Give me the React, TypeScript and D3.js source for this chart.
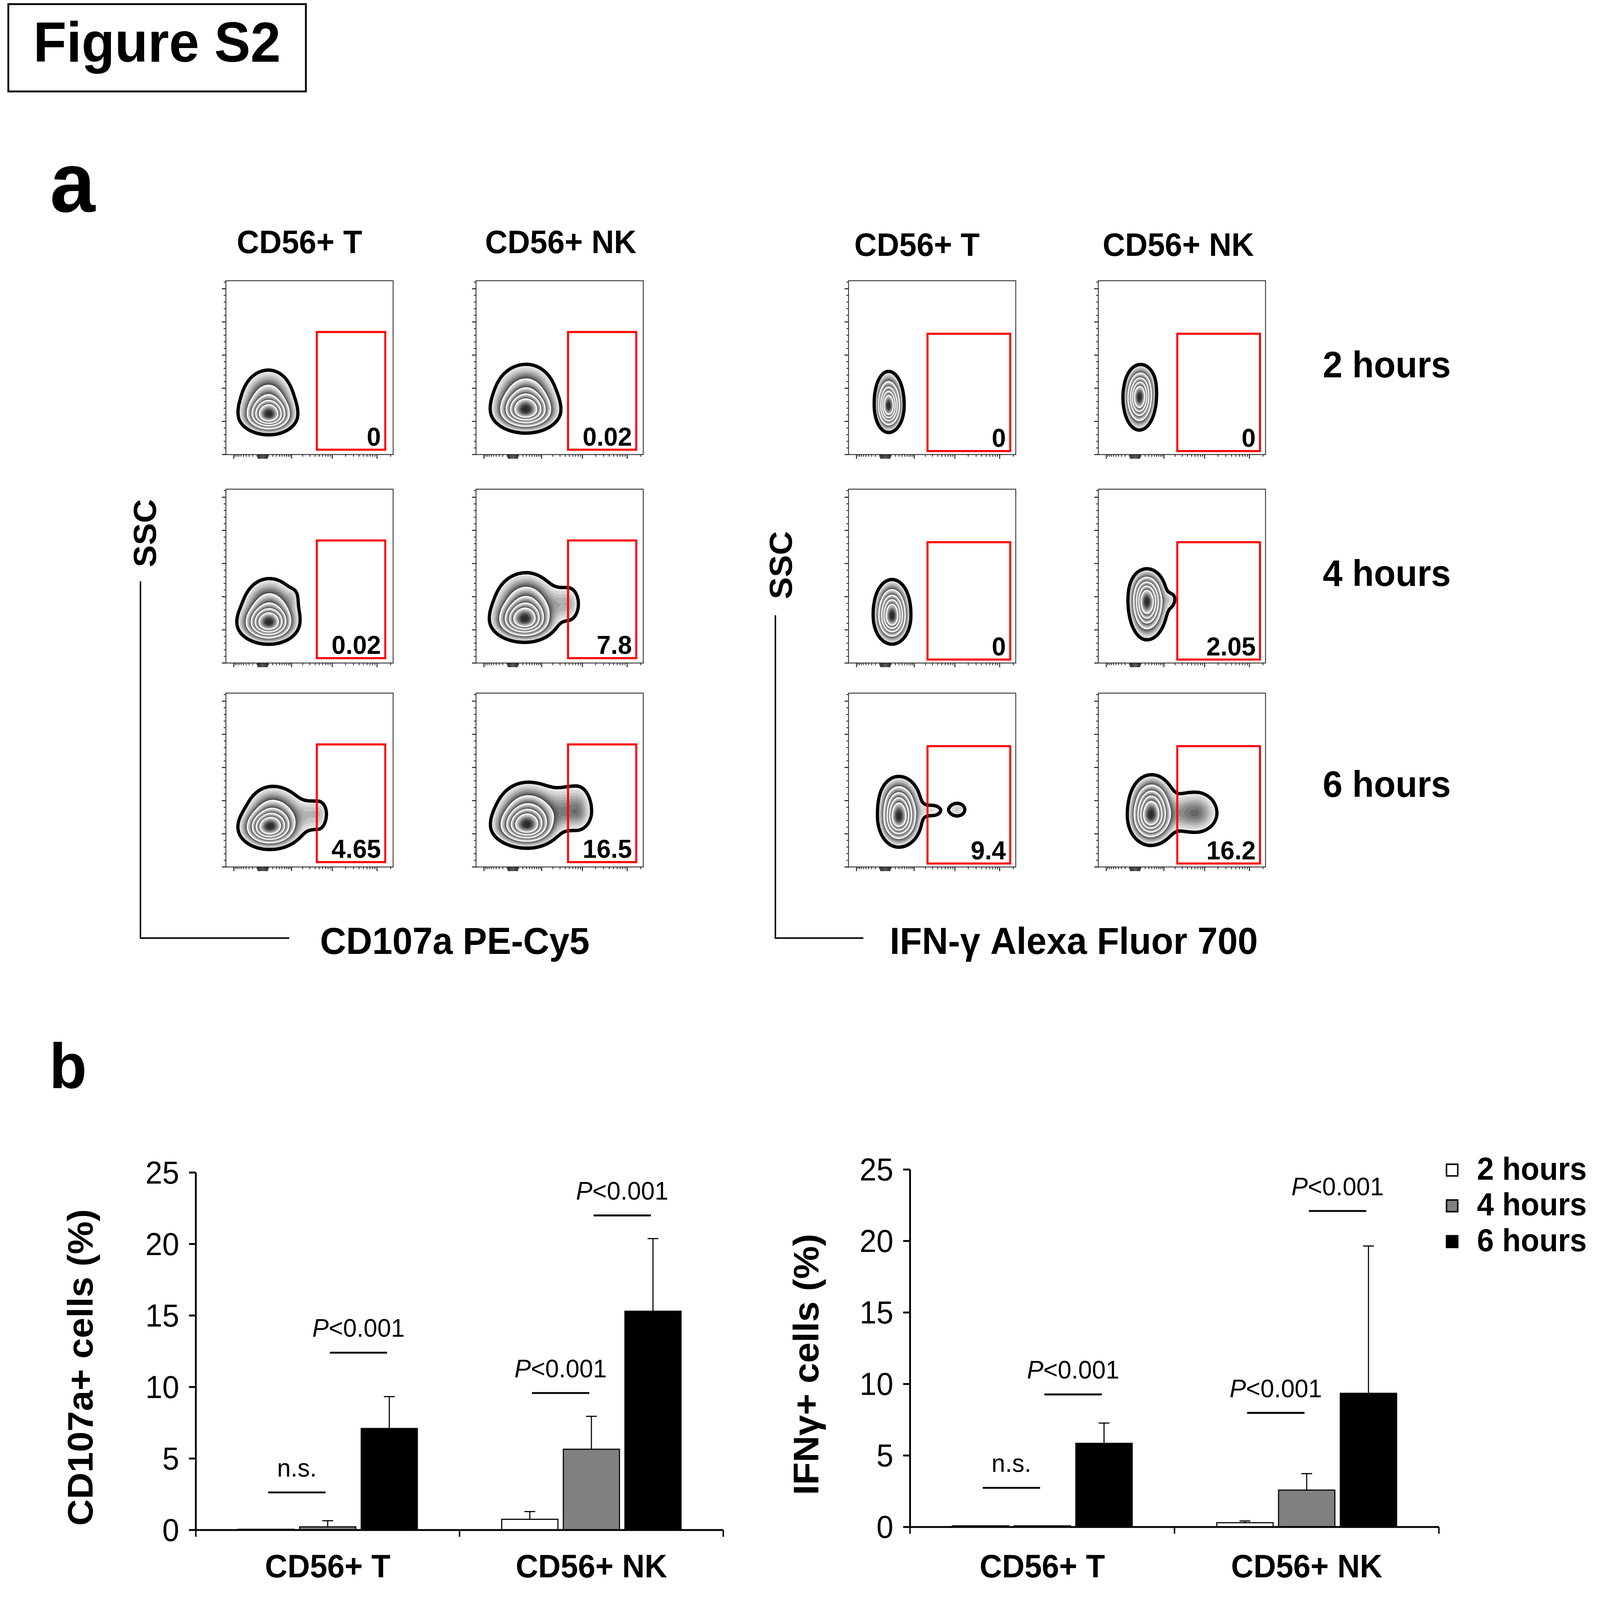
import React, { useMemo } from 'react';
import * as d3 from 'd3';

const W = 4420;
const H = 4252;
const FONT = '"Liberation Sans", Arial, Helvetica, sans-serif';

const hours = ['2 hours', '4 hours', '6 hours'];
const cellTypes = ['CD56+ T', 'CD56+ NK'];
const barFills = ['#ffffff', '#808080', '#000000'];

// % of cells inside the gate, per time point
const cd107aGateT = [0, 0.02, 4.65];
const cd107aGateNK = [0.02, 7.8, 16.5];
const ifngGateT = [0, 0, 9.4];
const ifngGateNK = [0, 2.05, 16.2];

// gates: [fluorescence lo, hi], [SSC lo, hi]
const gateCd107aT = { fl: [4400, 152000], ssc: [7340, 184800] };
const gateCd107aNK = { fl: [4660, 159000], ssc: [7340, 184800] };
const gateIfng = { fl: [2260, 171500], ssc: [5240, 182200] };

// populations:
// [fluorescence, SSC, spread left, right, up, down (fraction of axis), weight]
const cd107aT = [
  [[114, 59000, 0.065, 0.061, 0.05, 0.04, 1], [104, 78600, 0.07, 0.065, 0.08, 0.06, 0.35]],
  [[107, 59500, 0.068, 0.065, 0.05, 0.043, 1], [122, 78600, 0.07, 0.072, 0.08, 0.06, 0.35], [1087, 99600, 0.03, 0.02, 0.03, 0.04, 0.03]],
  [[122, 59000, 0.068, 0.07, 0.05, 0.045, 1], [200, 76000, 0.07, 0.08, 0.075, 0.06, 0.35], [4660, 80000, 0.1, 0.035, 0.05, 0.06, 0.07]],
];
const cd107aNK = [
  [[277, 65500, 0.075, 0.075, 0.055, 0.045, 1], [292, 86500, 0.08, 0.075, 0.08, 0.07, 0.4]],
  [[244, 64200, 0.075, 0.07, 0.055, 0.045, 1], [292, 86500, 0.08, 0.075, 0.08, 0.07, 0.4], [4665, 89100, 0.09, 0.04, 0.06, 0.06, 0.08]],
  [[313, 61600, 0.078, 0.07, 0.055, 0.045, 1], [345, 81300, 0.08, 0.085, 0.075, 0.07, 0.4], [7290, 83900, 0.11, 0.05, 0.08, 0.06, 0.13]],
];
const ifngT = [
  [[53, 70800, 0.03, 0.033, 0.06, 0.052, 1], [53, 89100, 0.033, 0.035, 0.06, 0.06, 0.3]],
  [[122, 68200, 0.04, 0.04, 0.065, 0.055, 1], [122, 89100, 0.042, 0.042, 0.06, 0.06, 0.3]],
  [[292, 73400, 0.045, 0.05, 0.07, 0.06, 1], [292, 99600, 0.048, 0.052, 0.06, 0.06, 0.3], [2945, 85200, 0.08, 0.05, 0.03, 0.03, 0.035], [11300, 86500, 0.035, 0.035, 0.028, 0.028, 0.05]],
];
const ifngNK = [
  [[71, 83900, 0.035, 0.036, 0.06, 0.065, 1], [104, 104900, 0.037, 0.037, 0.05, 0.06, 0.3]],
  [[244, 89100, 0.04, 0.045, 0.065, 0.075, 1], [244, 110100, 0.042, 0.042, 0.05, 0.06, 0.3], [1490, 97000, 0.04, 0.025, 0.025, 0.04, 0.04]],
  [[362, 76000, 0.05, 0.055, 0.07, 0.06, 1], [402, 102200, 0.052, 0.052, 0.06, 0.06, 0.3], [6105, 81300, 0.11, 0.07, 0.065, 0.06, 0.12]],
];

// panel b: mean and SD (%)
const cd107aMean = [[0.05, 0.22, 7.1], [0.75, 5.65, 15.3]];
const cd107aSd = [[0, 0.43, 2.23], [0.54, 2.3, 5.08]];
const ifngMean = [[0.08, 0.08, 5.85], [0.3, 2.58, 9.35]];
const ifngSd = [[0, 0, 1.42], [0.12, 1.15, 10.3]];

// significance bars: cell group, from bar, to bar, height (%), label
const cd107aSig = [
  { g: 0, a: 0, b: 1, v: 2.63, label: 'n.s.' },
  { g: 0, a: 1, b: 2, v: 12.4, label: 'P' },
  { g: 1, a: 0, b: 1, v: 9.58, label: 'P' },
  { g: 1, a: 1, b: 2, v: 22.0, label: 'P' },
];
const ifngSig = [
  { g: 0, a: 0, b: 1, v: 2.74, label: 'n.s.' },
  { g: 0, a: 1, b: 2, v: 9.27, label: 'P' },
  { g: 1, a: 0, b: 1, v: 7.98, label: 'P' },
  { g: 1, a: 1, b: 2, v: 22.1, label: 'P' },
];

// flow plot geometry
const S = 462;
const colX = [624, 1315, 2344, 3034];
const rowY = [746, 1300, 1842];

const flowX = d3.scaleSymlog().constant(300).domain([-1650, 227000]).range([0, S]);
const flowY = d3.scaleLinear().domain([0, 262144]).range([S, 0]);

const xMajor = [-1000, -80, -60, -40, -20, 0, 20, 40, 60, 80, 1000, 10000, 100000];
const xMinor = [
  ...d3.range(-900, 0, 100),
  ...d3.range(100, 1000, 100),
  ...d3.range(2000, 10000, 1000),
  ...d3.range(20000, 100000, 10000),
  200000,
];
const yMajor = d3.range(0, 262144, 50000);
const yMinor = d3.range(0, 262144, 10000).filter((v) => v % 50000 !== 0);

const N = 154;
const LEVELS = [0.02, 0.14, 0.3, 0.48, 0.68];
const STEPS = 10;
const shade = d3.interpolateRgb('#ececec', '#2c2c2c');

function buildContours(comps: number[][]) {
  const cell = S / N;
  const pts = comps.map(([fl, ssc, sl, sr, su, sd, w]) => ({
    cx: flowX(fl), cy: flowY(ssc), sl: sl * S, sr: sr * S, su: su * S, sd: sd * S, w,
  }));
  const vals = new Array(N * N);
  let max = 0;
  for (let j = 0; j < N; j++) {
    const py = (j + 0.5) * cell;
    for (let i = 0; i < N; i++) {
      const px = (i + 0.5) * cell;
      let v = 0;
      for (const c of pts) {
        const dx = px - c.cx;
        const dy = py - c.cy;
        const sx = dx < 0 ? c.sl : c.sr;
        const sy = dy < 0 ? c.su : c.sd;
        v += c.w * Math.exp(-0.5 * ((dx * dx) / (sx * sx) + (dy * dy) / (sy * sy)));
      }
      vals[j * N + i] = v;
      if (v > max) max = v;
    }
  }
  for (let k = 0; k < vals.length; k++) vals[k] /= max;

  const gen = d3.contours().size([N, N]);
  const path = d3.geoPath(d3.geoIdentity().scale(cell));
  const bounds = [...LEVELS, 1];
  const fills: { d: string; c: string }[] = [];
  for (let b = 0; b < LEVELS.length; b++) {
    const lo = bounds[b];
    const hi = bounds[b + 1];
    for (let s = 0; s < STEPS; s++) {
      const t = s / STEPS;
      const d = path(gen.contour(vals, lo + (hi - lo) * t) as any) || '';
      fills.push({ d, c: shade(b === LEVELS.length - 1 ? Math.min(1, t * 1.15) : t) });
    }
  }
  const lines = LEVELS.map((l) => path(gen.contour(vals, l) as any) || '');
  return { fills, lines };
}

function FlowPlot({ x, y, comps, gate, value }: any) {
  const { fills, lines } = useMemo(() => buildContours(comps), [comps]);
  const gx0 = flowX(gate.fl[0]);
  const gx1 = flowX(gate.fl[1]);
  const gy0 = flowY(gate.ssc[1]);
  const gy1 = flowY(gate.ssc[0]);
  return (
    <g transform={`translate(${x},${y})`}>
      <rect width={S} height={S} fill="#fff" />
      <g clipPath="url(#flowclip)">
        {fills.map((f, i) => (
          <path key={i} d={f.d} fill={f.c} stroke="none" />
        ))}
        {lines.slice(1).map((d, i) => (
          <path key={'w' + i} d={d} fill="none" stroke="#fff" strokeWidth={2.6} />
        ))}
        <path d={lines[0]} fill="none" stroke="#000" strokeWidth={9} strokeLinejoin="round" />
      </g>
      <rect width={S} height={S} fill="none" stroke="#3a3a3a" strokeWidth={2.5} />
      {yMajor.map((v) => (
        <line key={'ym' + v} x1={0} x2={-11} y1={flowY(v)} y2={flowY(v)} stroke="#111" strokeWidth={2.5} />
      ))}
      {yMinor.map((v) => (
        <line key={'yn' + v} x1={0} x2={-6} y1={flowY(v)} y2={flowY(v)} stroke="#111" strokeWidth={2} />
      ))}
      {xMajor.map((v) => (
        <line key={'xm' + v} y1={S} y2={S + 11} x1={flowX(v)} x2={flowX(v)} stroke="#111" strokeWidth={2.5} />
      ))}
      {xMinor.map((v) => (
        <line key={'xn' + v} y1={S} y2={S + 6} x1={flowX(v)} x2={flowX(v)} stroke="#111" strokeWidth={2} />
      ))}
      <rect x={gx0} y={gy0} width={gx1 - gx0} height={gy1 - gy0} fill="none" stroke="#ff0000" strokeWidth={5.5} />
      <text x={gx1 - 12} y={gy1 - 11} textAnchor="end" fontFamily={FONT} fontWeight="bold" fontSize={70}>
        {String(value)}
      </text>
    </g>
  );
}

function BarChart({ left, right, y0, y25, means, sds, sig, title, titleX, legend }: any) {
  const y = d3.scaleLinear().domain([0, 25]).range([y0, y25]);
  const gx = d3.scaleBand<string>().domain(cellTypes).range([left, right]);
  const bx = d3
    .scaleBand<string>()
    .domain(hours)
    .range([0, gx.bandwidth()])
    .paddingInner(0.088)
    .paddingOuter(0.685);
  const bw = bx.bandwidth();
  const cx = (g: number, h: number) => (gx(cellTypes[g]) as number) + (bx(hours[h]) as number) + bw / 2;

  return (
    <g fontFamily={FONT}>
      {means.map((row: number[], g: number) =>
        row.map((m: number, h: number) => {
          const x0 = cx(g, h) - bw / 2;
          const top = y(m);
          const sd = sds[g][h];
          return (
            <g key={g + '-' + h}>
              {sd > 0 && (
                <g stroke="#000" strokeWidth={3}>
                  <line x1={cx(g, h)} x2={cx(g, h)} y1={top} y2={y(m + sd)} />
                  <line x1={cx(g, h) - 15} x2={cx(g, h) + 15} y1={y(m + sd)} y2={y(m + sd)} />
                </g>
              )}
              <rect x={x0} y={top} width={bw} height={y0 - top} fill={barFills[h]} stroke="#000" strokeWidth={3} />
            </g>
          );
        })
      )}
      {sig.map((s: any, i: number) => {
        const xa = cx(s.g, s.a) + 6;
        const xb = cx(s.g, s.b) - 6;
        const yy = y(s.v);
        return (
          <g key={'s' + i}>
            <line x1={xa} x2={xb} y1={yy} y2={yy} stroke="#000" strokeWidth={5} />
            <text x={(xa + xb) / 2} y={yy - 42} textAnchor="middle" fontSize={68}>
              {s.label === 'P' ? (
                <>
                  <tspan fontStyle="italic">P</tspan>
                  {'<0.001'}
                </>
              ) : (
                s.label
              )}
            </text>
          </g>
        );
      })}
      <line x1={left} x2={left} y1={y0} y2={y25} stroke="#000" strokeWidth={5} />
      {y.ticks(5).map((t) => (
        <g key={'t' + t}>
          <line x1={left - 19} x2={left} y1={y(t)} y2={y(t)} stroke="#000" strokeWidth={5} />
          <text x={left - 46} y={y(t)} dy="0.35em" textAnchor="end" fontSize={84}>
            {t}
          </text>
        </g>
      ))}
      <line x1={left} x2={right} y1={y0} y2={y0} stroke="#000" strokeWidth={5} />
      {[left, gx(cellTypes[1]) as number, right].map((xx, i) => (
        <line key={'xt' + i} x1={xx} x2={xx} y1={y0} y2={y0 + 18} stroke="#000" strokeWidth={4} />
      ))}
      {cellTypes.map((c) => (
        <text key={c} x={(gx(c) as number) + gx.bandwidth() / 2} y={4192} textAnchor="middle" fontSize={86} fontWeight="bold">
          {c}
        </text>
      ))}
      <text
        transform={`translate(${titleX},${(y0 + y25) / 2 + 43}) rotate(-90)`}
        textAnchor="middle"
        fontSize={98}
        fontWeight="bold"
      >
        {title}
      </text>
      {legend &&
        hours.map((h, i) => (
          <g key={h}>
            <rect x={3996} y={3094 + i * 95} width={31} height={31} fill={barFills[i]} stroke="#000" strokeWidth={4} />
            <text x={4080} y={3135 + i * 95} fontSize={84} fontWeight="bold">
              {h}
            </text>
          </g>
        ))}
    </g>
  );
}

const rowLabelY = [1003, 1557, 2118];
const headerDx = [30, 25, 16, 12];
const headerY = [673, 673, 680, 680];

export default function App() {
  const panels = [
    { col: 0, pops: cd107aT, vals: cd107aGateT, gate: gateCd107aT },
    { col: 1, pops: cd107aNK, vals: cd107aGateNK, gate: gateCd107aNK },
    { col: 2, pops: ifngT, vals: ifngGateT, gate: gateIfng },
    { col: 3, pops: ifngNK, vals: ifngGateNK, gate: gateIfng },
  ];
  return (
    <svg
      viewBox={`0 0 ${W} ${H}`}
      preserveAspectRatio="none"
      style={{ position: 'fixed', left: 0, top: 0, width: '100vw', height: '100vh', background: '#fff' }}
    >
      <defs>
        <clipPath id="flowclip">
          <rect width={S} height={S} />
        </clipPath>
      </defs>
      <rect width={W} height={H} fill="#fff" />

      <rect x={23} y={11} width={822} height={232} fill="none" stroke="#000" strokeWidth={5} />
      <text x={92} y={164} fontFamily={FONT} fontWeight="bold" fontSize={150}>
        Figure S2
      </text>

      <text x={138} y={563} fontFamily={FONT} fontWeight="bold" fontSize={225}>
        a
      </text>
      <text x={136} y={2892} fontFamily={FONT} fontWeight="bold" fontSize={170}>
        b
      </text>

      {panels.map((p) => (
        <text
          key={'h' + p.col}
          x={colX[p.col] + headerDx[p.col]}
          y={headerY[p.col]}
          fontFamily={FONT}
          fontWeight="bold"
          fontSize={86}
        >
          {cellTypes[p.col % 2]}
        </text>
      ))}

      {panels.map((p) =>
        p.pops.map((comps, r) => (
          <FlowPlot
            key={p.col + '-' + r}
            x={colX[p.col]}
            y={rowY[r]}
            comps={comps}
            gate={p.gate}
            value={p.vals[r]}
          />
        ))
      )}

      {hours.map((h, i) => (
        <text key={h} x={3654} y={rowLabelY[i]} fontFamily={FONT} fontWeight="bold" fontSize={98}>
          {h}
        </text>
      ))}

      <g fontFamily={FONT} fontWeight="bold">
        <path d="M388,1545 V2493 H799" fill="none" stroke="#000" strokeWidth={4} />
        <text transform="translate(431,1417) rotate(-90)" textAnchor="middle" fontSize={88}>
          SSC
        </text>
        <text x={884} y={2535} fontSize={100}>
          CD107a PE-Cy5
        </text>
        <path d="M2142,1635 V2493 H2385" fill="none" stroke="#000" strokeWidth={4} />
        <text transform="translate(2187,1502) rotate(-90)" textAnchor="middle" fontSize={88}>
          SSC
        </text>
        <text x={2458} y={2535} fontSize={100}>
          IFN-γ Alexa Fluor 700
        </text>
      </g>

      <BarChart
        left={541}
        right={1998}
        y0={4066}
        y25={3116}
        means={cd107aMean}
        sds={cd107aSd}
        sig={cd107aSig}
        title="CD107a+ cells (%)"
        titleX={256}
      />
      <BarChart
        left={2514}
        right={3975}
        y0={4058}
        y25={3108}
        means={ifngMean}
        sds={ifngSd}
        sig={ifngSig}
        title="IFNγ+ cells (%)"
        titleX={2261}
        legend
      />
    </svg>
  );
}
